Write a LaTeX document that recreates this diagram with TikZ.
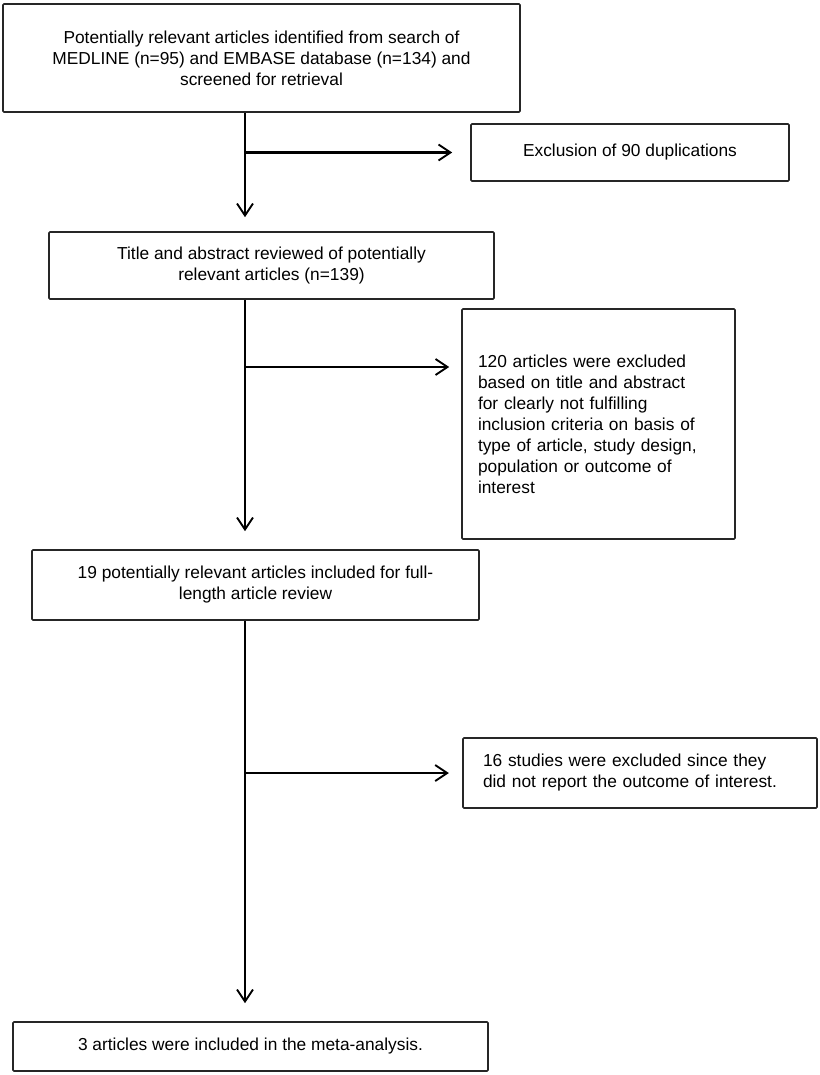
\documentclass[tikz,border=0pt]{standalone}
\usepackage{fontspec}
\setmainfont{Liberation Sans}
\usetikzlibrary{arrows.meta}
\begin{document}
\begin{tikzpicture}[x=0.75pt,y=-0.75pt,
  box/.style={draw=black!85, line width=1.2pt, rounded corners=0.8pt, inner sep=0pt,
    font=\fontsize{13}{15.75}\selectfont},
  link/.style={line width=1.6pt, -{Straight Barb[length=9pt,width=12pt,line width=1.4pt]}},
  plain/.style={line width=1.6pt}
]
\useasboundingbox (0,0) rectangle (820,1075);

\node[box, minimum width=387.75pt, minimum height=81pt, align=center] (top) at (261.5,58)
  {Potentially relevant articles identified from search of\\
   MEDLINE (n=95) and EMBASE database (n=134) and\\
   screened for retrieval};

\node[box, minimum width=238.5pt, minimum height=42.75pt, align=center] (excl) at (630,152.5)
  {Exclusion of 90 duplications};

\node[box, minimum width=333.75pt, minimum height=50.25pt, align=center] (title) at (271.5,265.5)
  {Title and abstract reviewed of potentially\\ relevant articles (n=139)};

\node[box, minimum width=204.75pt, minimum height=172.5pt, text width=180.75pt, align=left] (ex120) at (598.5,424)
  {120 articles were excluded\\
   based on title and abstract\\
   for clearly not fulfilling\\
   inclusion criteria on basis of\\
   type of article, study design,\\
   population or outcome of\\
   interest};

\node[box, minimum width=335.25pt, minimum height=52.5pt, align=center] (full) at (255.5,585)
  {19 potentially relevant articles included for full-\\ length article review};

\node[box, minimum width=265.5pt, minimum height=52.5pt, text width=235.5pt, align=left] (ex16) at (640,773)
  {16 studies were excluded since they\\ did not report the outcome of interest.};

\node[box, minimum width=356.25pt, minimum height=36.75pt, align=center] (meta) at (250.5,1046.5)
  {3 articles were included in the meta-analysis.};

\coordinate (v) at (245,0);
\coordinate (b2) at (245,367);

% main vertical flow
\draw[link, shorten >=10.5pt] (top.south -| v) -- (title.north -| v);
\draw[link, shorten >=13.5pt] (title.south -| v) -- (full.north -| v);
\draw[link, shorten >=13.5pt] (full.south -| v) -- (meta.north -| v);

% side branches
\draw[link, shorten >=13.5pt] (v |- excl.west) -- (excl.west);
\draw[link, shorten >=9pt] (b2) -- (b2 -| ex120.west);
\draw[link, shorten >=10pt] (v |- ex16.west) -- (ex16.west);
\end{tikzpicture}
\end{document}
